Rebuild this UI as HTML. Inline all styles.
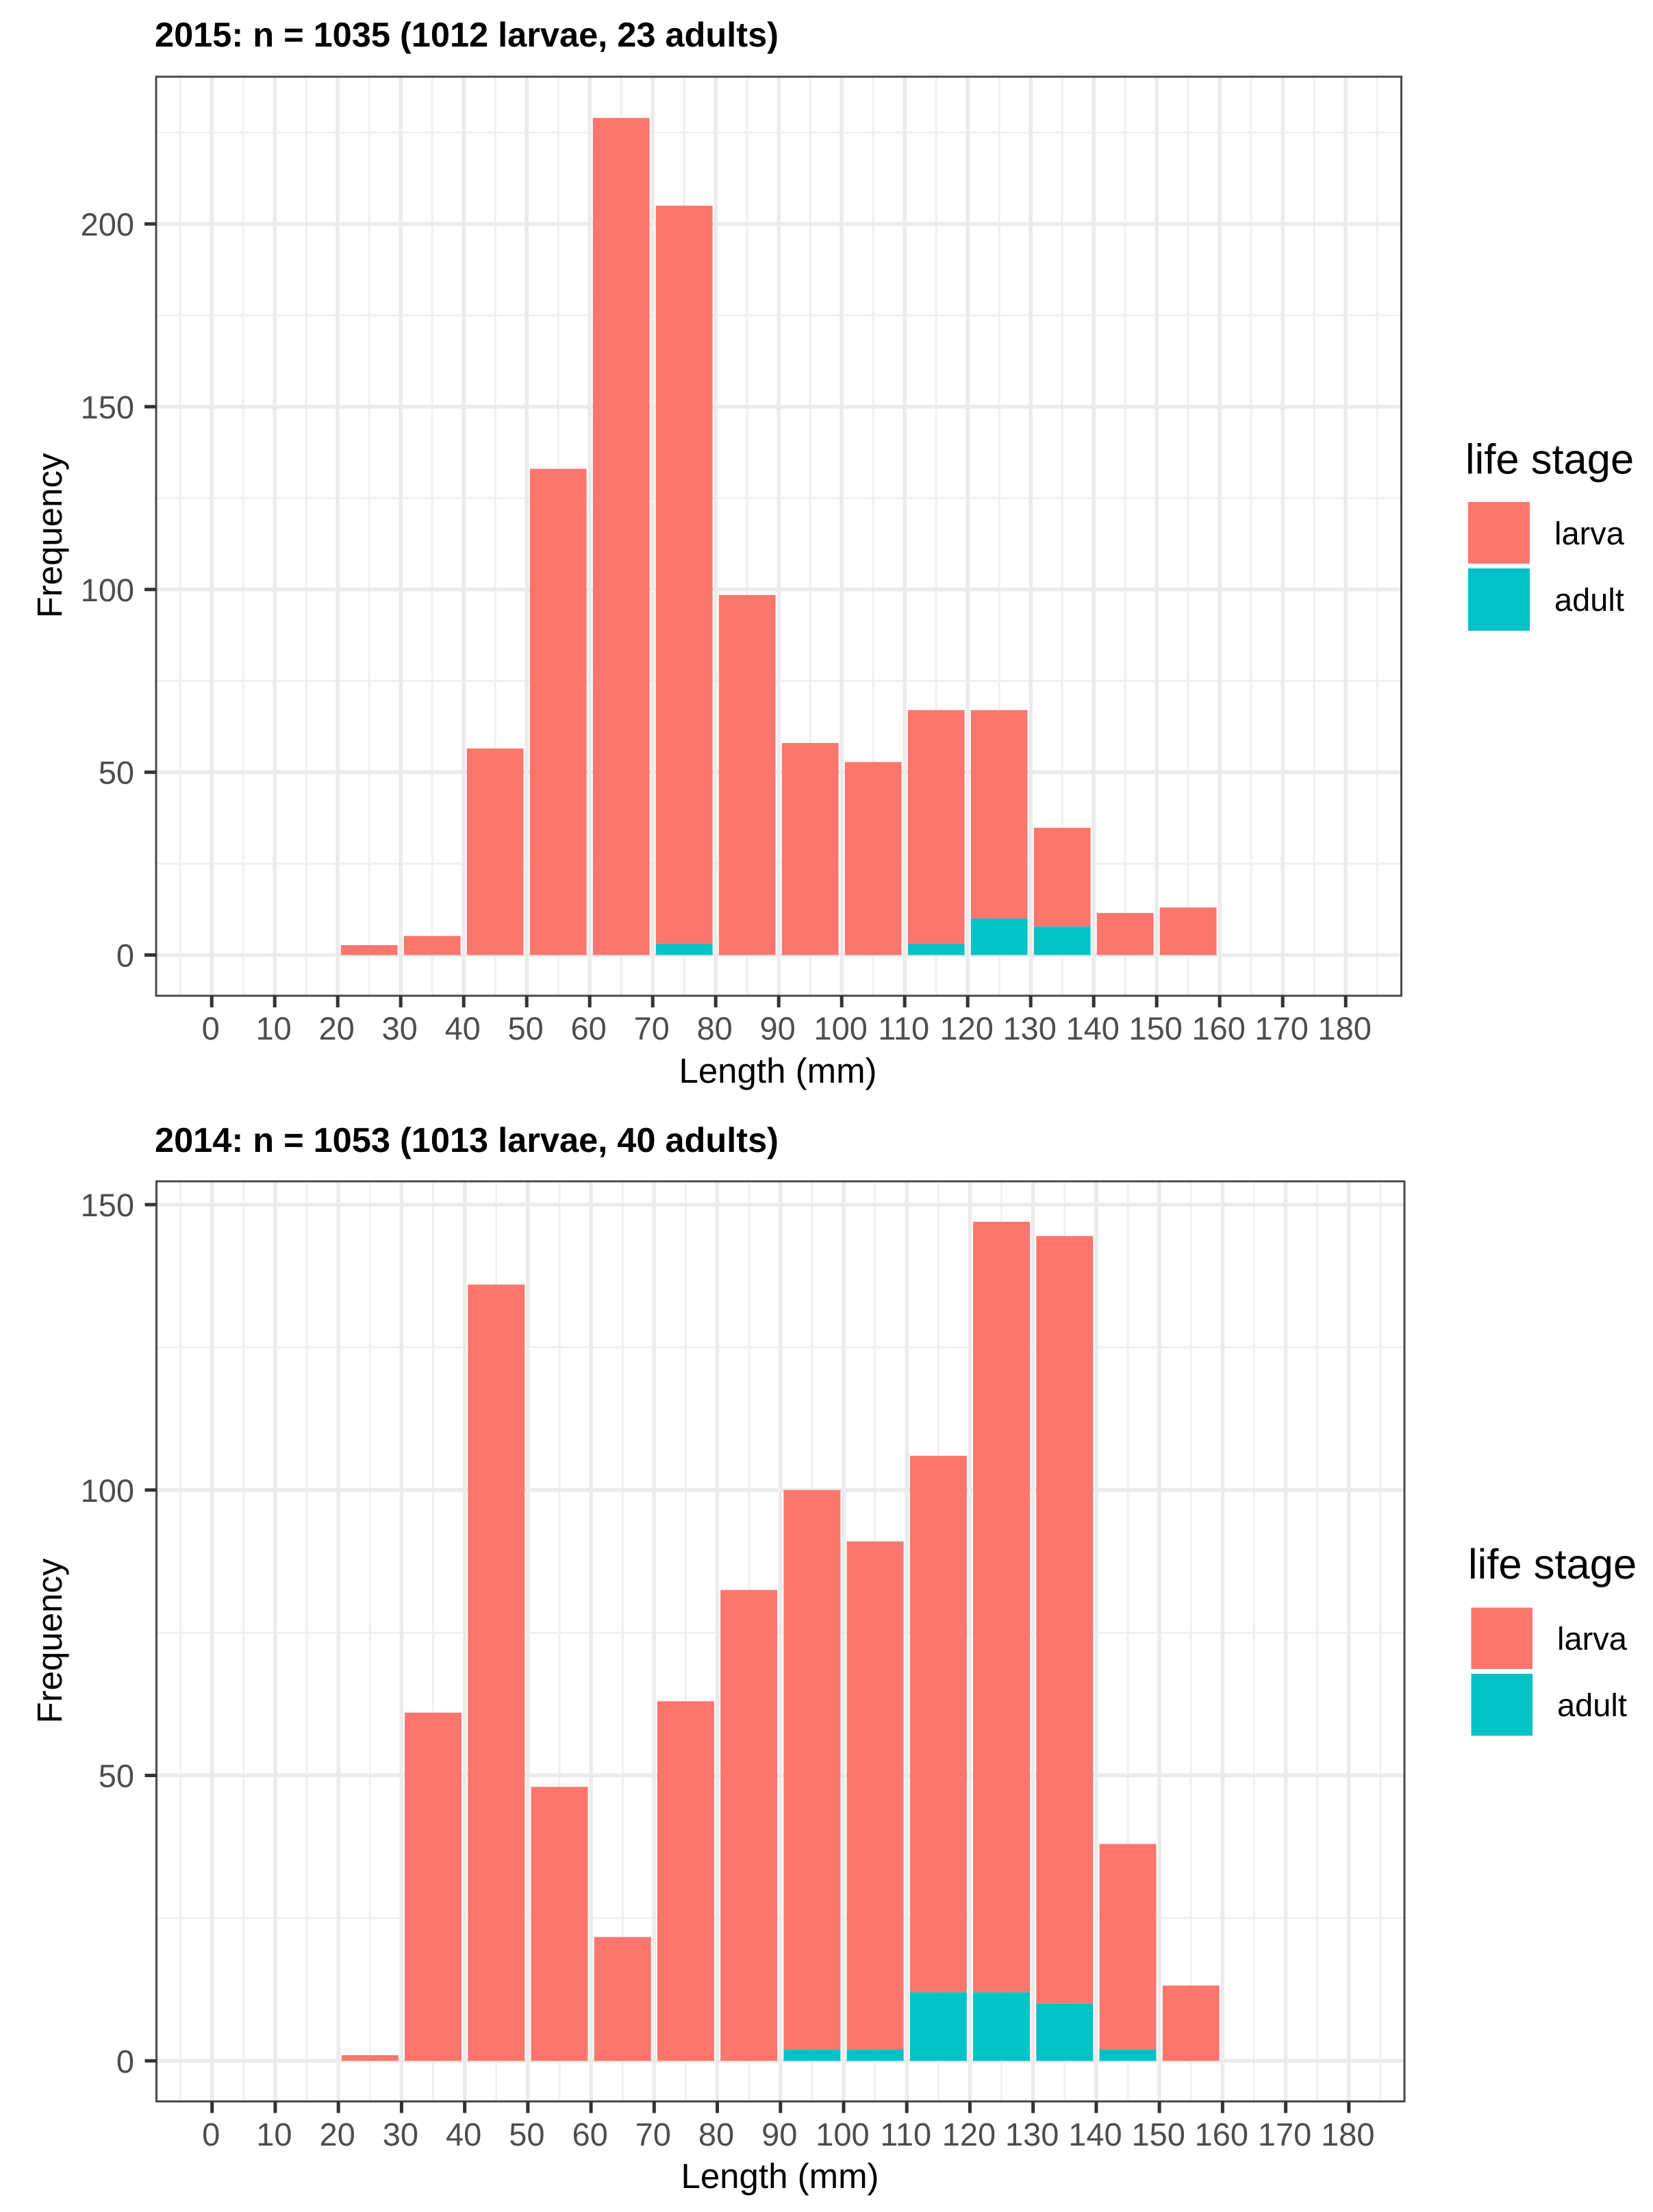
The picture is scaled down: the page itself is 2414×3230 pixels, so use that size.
<!DOCTYPE html>
<html lang="en">
<head>
<meta charset="utf-8">
<title>Length frequency by life stage, 2015 and 2014</title>
<style>
html,body{margin:0;padding:0;background:#fff;width:2414px;height:3230px;overflow:hidden}
svg{display:block;font-family:"Liberation Sans",Arial,sans-serif;text-rendering:geometricPrecision}
.title{font-size:50.5px;font-weight:bold;fill:#000}
.axis-title{font-size:51px;fill:#000}
.tick-label{font-size:47px;fill:#4d4d4d}
.legend-title{font-size:61.5px;fill:#000}
.legend-label{font-size:47px;fill:#000}
</style>
</head>
<body>
<svg id="chart" xmlns="http://www.w3.org/2000/svg" width="2414" height="3230" viewBox="0 0 2414 3230">
  <rect x="0" y="0" width="2414" height="3230" fill="#fff"/>

  <g id="p2015">
    <text class="title" x="226" y="68">2015: n = 1035 (1012 larvae, 23 adults)</text>
    <g id="grid-2015"></g>
    <g id="bars-2015"></g>
    <rect x="228" y="112" width="1818.5" height="1342" fill="none" stroke="#4a4a4a" stroke-width="3"/>
    <g id="axes-2015"></g>
    <text class="axis-title" x="1136" y="1581" text-anchor="middle">Length (mm)</text>
    <text class="axis-title" transform="translate(90 782) rotate(-90)" text-anchor="middle">Frequency</text>
    <g>
      <text class="legend-title" x="2140" y="691.5">life stage</text>
      <rect x="2144" y="733" width="90" height="90" fill="#fd766d"/>
      <rect x="2144" y="830" width="90" height="91" fill="#00c2c7"/>
      <text class="legend-label" x="2270" y="795">larva</text>
      <text class="legend-label" x="2270" y="892">adult</text>
    </g>
  </g>

  <g id="p2014">
    <text class="title" x="226" y="1682">2014: n = 1053 (1013 larvae, 40 adults)</text>
    <g id="grid-2014"></g>
    <g id="bars-2014"></g>
    <rect x="228.5" y="1725" width="1822.5" height="1343.5" fill="none" stroke="#4a4a4a" stroke-width="3"/>
    <g id="axes-2014"></g>
    <text class="axis-title" x="1139" y="3195" text-anchor="middle">Length (mm)</text>
    <text class="axis-title" transform="translate(90 2396) rotate(-90)" text-anchor="middle">Frequency</text>
    <g>
      <text class="legend-title" x="2144" y="2305">life stage</text>
      <rect x="2148.5" y="2347.5" width="89.5" height="89.5" fill="#fd766d"/>
      <rect x="2148.5" y="2444" width="89.5" height="90.5" fill="#00c2c7"/>
      <text class="legend-label" x="2274" y="2409">larva</text>
      <text class="legend-label" x="2274" y="2506">adult</text>
    </g>
  </g>
</svg>

<script>
var binStarts = [20, 30, 40, 50, 60, 70, 80, 90, 100, 110, 120, 130, 140, 150];
var larva2015 = [2.7, 5.2, 56.5, 133, 229, 202, 98.5, 58, 52.8, 64, 57, 27, 11.5, 13];
var adult2015 = [0, 0, 0, 0, 0, 3, 0, 0, 0, 3, 10, 7.8, 0, 0];
var larva2014 = [1, 61, 136, 48, 21.7, 63, 82.5, 98, 89, 94, 135, 134.5, 36, 13.2];
var adult2014 = [0, 0, 0, 0, 0, 0, 0, 2, 2, 12, 12, 10, 2, 0];
var xTickLabels = [0, 10, 20, 30, 40, 50, 60, 70, 80, 90, 100, 110, 120, 130, 140, 150, 160, 170, 180];
var xMinorTicks = [-5, 5, 15, 25, 35, 45, 55, 65, 75, 85, 95, 105, 115, 125, 135, 145, 155, 165, 175, 185];
var yTickLabels2015 = [0, 50, 100, 150, 200];
var yMinorTicks2015 = [25, 75, 125, 175, 225];
var yTickLabels2014 = [0, 50, 100, 150];
var yMinorTicks2014 = [25, 75, 125];

var NS = 'http://www.w3.org/2000/svg';
var BAR_WIDTH = 9;
var COLOR_LARVA = '#fd766d';
var COLOR_ADULT = '#00c2c7';

function make(parent, tag, attrs) {
  var el = document.createElementNS(NS, tag);
  for (var k in attrs) { el.setAttribute(k, attrs[k]); }
  parent.appendChild(el);
  return el;
}

function drawPanel(cfg) {
  var xPos = function (v) { return cfg.x0 + cfg.xScale * v; };
  var yPos = function (v) { return cfg.y0 - cfg.yScale * v; };
  var grid = document.getElementById('grid-' + cfg.year);
  var bars = document.getElementById('bars-' + cfg.year);
  var axes = document.getElementById('axes-' + cfg.year);

  cfg.yMinor.forEach(function (v) {
    var line = make(grid, 'line', {x1: cfg.left, x2: cfg.right, y1: yPos(v), y2: yPos(v), stroke: '#f0f0f0', 'stroke-width': 3});
    
    
  });
  xMinorTicks.forEach(function (v) {
    var line = make(grid, 'line', {x1: xPos(v), x2: xPos(v), y1: cfg.top, y2: cfg.bottom, stroke: '#f0f0f0', 'stroke-width': 3});
    
    
  });
  cfg.yTicks.forEach(function (v) {
    var line = make(grid, 'line', {x1: cfg.left, x2: cfg.right, y1: yPos(v), y2: yPos(v), stroke: '#ebebeb', 'stroke-width': 5.5});
    
    
  });
  xTickLabels.forEach(function (v) {
    var line = make(grid, 'line', {x1: xPos(v), x2: xPos(v), y1: cfg.top, y2: cfg.bottom, stroke: '#ebebeb', 'stroke-width': 5.5});
    
    
  });

  binStarts.forEach(function (start, i) {
    var a = cfg.adult[i];
    var l = cfg.larva[i];
    var bx = xPos(start + 5 - BAR_WIDTH / 2);
    var bw = cfg.xScale * BAR_WIDTH;
    if (l > 0) {
      var larvaBar = make(bars, 'rect', {x: bx, y: yPos(a + l), width: bw, height: yPos(a) - yPos(a + l), fill: COLOR_LARVA});
      
      
    }
    if (a > 0) {
      var adultBar = make(bars, 'rect', {x: bx, y: yPos(a), width: bw, height: yPos(0) - yPos(a), fill: COLOR_ADULT});
      
      
    }
  });

  xTickLabels.forEach(function (v) {
    var tick = make(axes, 'line', {x1: xPos(v), x2: xPos(v), y1: cfg.bottom, y2: cfg.bottom + 17, stroke: '#333', 'stroke-width': 5});
    
    
    var label = make(axes, 'text', {'class': 'tick-label', x: xPos(v) - 1.5, y: cfg.xLabelY, 'text-anchor': 'middle'});
    label.textContent = String(v);
    
    
  });
  cfg.yTicks.forEach(function (v) {
    var tick = make(axes, 'line', {x1: cfg.left - 17, x2: cfg.left, y1: yPos(v), y2: yPos(v), stroke: '#333', 'stroke-width': 5});
    
    
    var label = make(axes, 'text', {'class': 'tick-label', x: 196, y: yPos(v) + 17, 'text-anchor': 'end'});
    label.textContent = String(v);
    
    
  });
}

drawPanel({year: '2015', larva: larva2015, adult: adult2015, yTicks: yTickLabels2015, yMinor: yMinorTicks2015,
  x0: 309.2, xScale: 9.2, y0: 1394.5, yScale: 5.3375, left: 228, right: 2046.5, top: 112, bottom: 1454, xLabelY: 1518});
drawPanel({year: '2014', larva: larva2014, adult: adult2014, yTicks: yTickLabels2014, yMinor: yMinorTicks2014,
  x0: 309.7, xScale: 9.223, y0: 3009.3, yScale: 8.335, left: 228.5, right: 2051, top: 1725, bottom: 3068.5, xLabelY: 3133});
</script>
</body>
</html>
